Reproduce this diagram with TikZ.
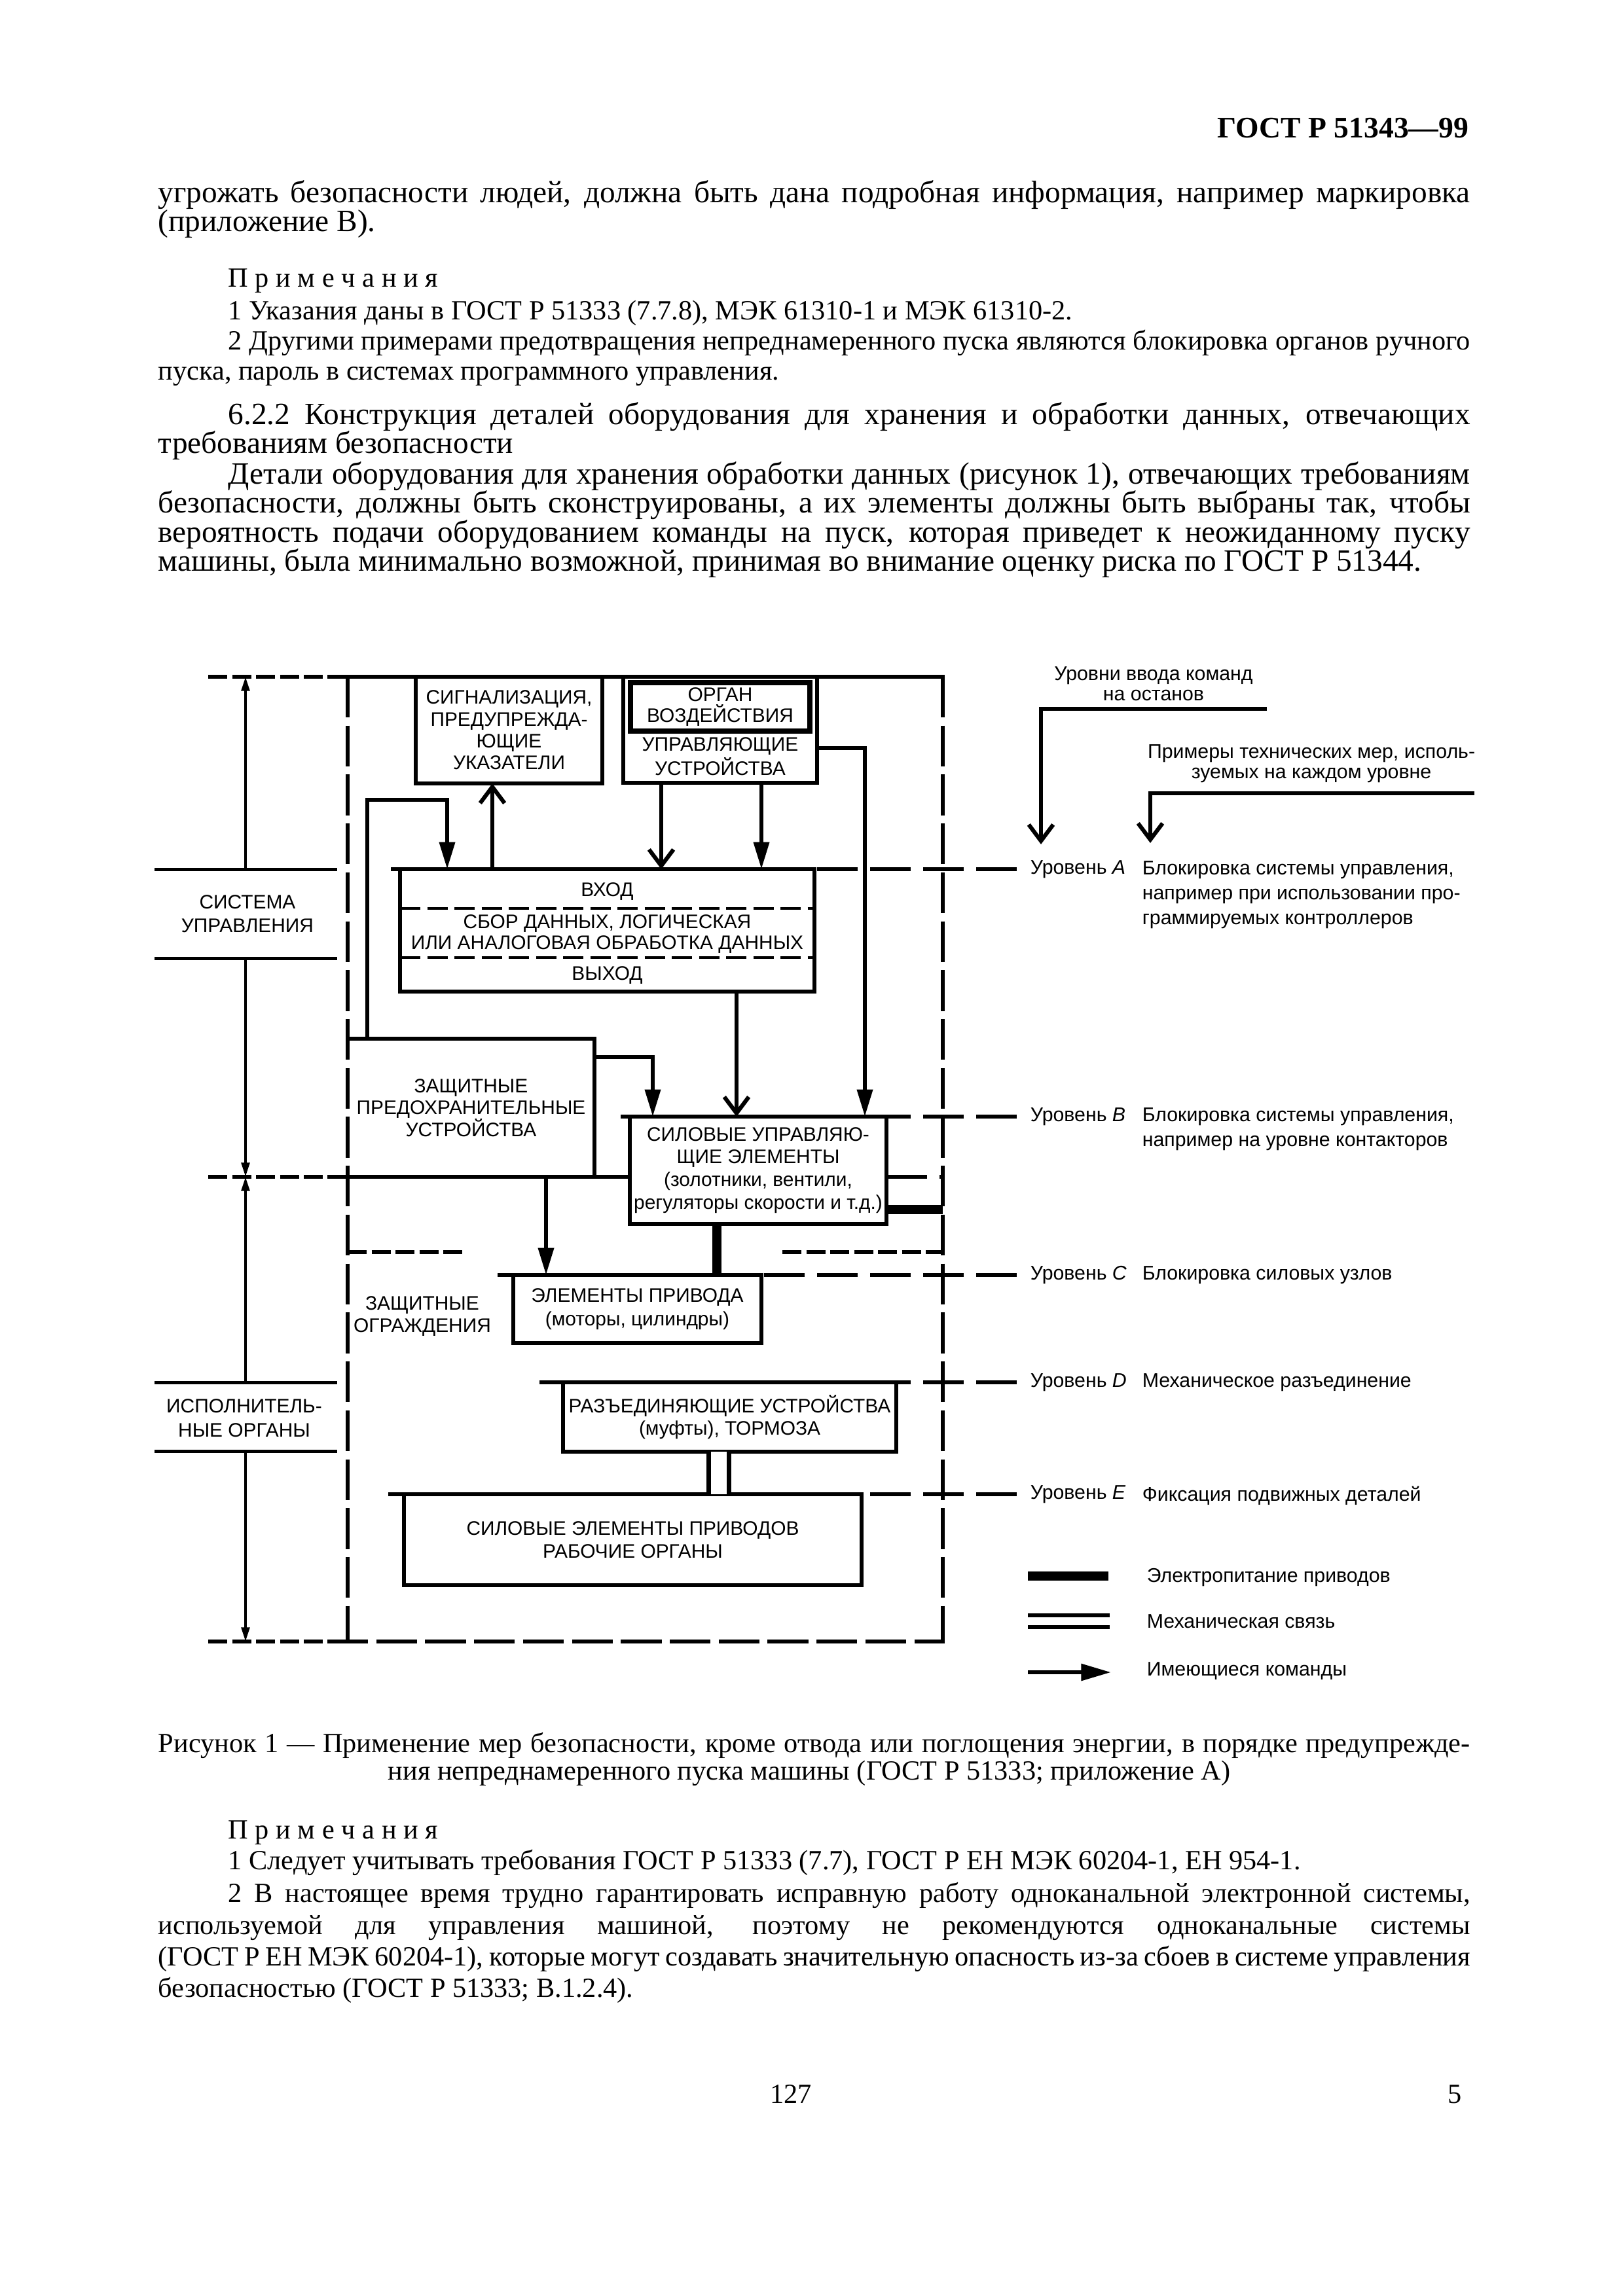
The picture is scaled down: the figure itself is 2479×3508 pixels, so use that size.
\documentclass[tikz,border=0pt]{standalone}
\usepackage{fontspec}
\setmainfont{Liberation Serif}
\setsansfont{Liberation Sans}
\usetikzlibrary{arrows.meta}
\newlength\pxu \setlength\pxu{0.084667mm}
\newcommand\bodyfont{\rmfamily\fontsize{11.4}{13}\selectfont}
\newcommand\notefont{\rmfamily\fontsize{10.2}{12}\selectfont}
\newcommand\boxfont{\sffamily\fontsize{7.2}{8}\selectfont}
\newcommand\sidefont{\sffamily\fontsize{7.3}{9.1}\selectfont}
\newcommand\jl[2]{\makebox[#1\pxu][s]{#2}}
\begin{document}
\begin{tikzpicture}[x=0.084667mm, y=-0.084667mm,
  txt/.style={anchor=base west, inner sep=0pt, font=\bodyfont},
  note/.style={anchor=base west, inner sep=0pt, font=\notefont},
  box/.style={draw, line width=1.6pt, inner sep=0pt, outer sep=0pt, font=\boxfont, align=center},
  boxtxt/.style={inner sep=0pt, outer sep=0pt, font=\boxfont, align=center},
  side/.style={inner sep=0pt, font=\sidefont, align=left},
  boxline/.style={line width=1.6pt},
  cmd/.style={line width=1.5pt, -{Triangle[length=10pt,width=5.6pt]}},
  cmdv/.style={line width=1.5pt, -{Straight Barb[length=6pt,width=9pt]}},
  power/.style={line width=3.5pt},
  mech/.style={double, double distance=6pt, line width=1.6pt},
  lvl/.style={line width=1.45pt, dash pattern=on 15pt off 4.5pt},
  frame/.style={line width=1.6pt, dash pattern=on 15pt off 3pt},
  short/.style={line width=1.6pt, dash pattern=on 7pt off 1.8pt},
  sepdash/.style={line width=1pt, dash pattern=on 7.5pt off 2.5pt},
  sep/.style={line width=1.2pt},
  dimarr/.style={line width=1pt, -{Triangle[length=5.2pt,width=3pt]}}]
\useasboundingbox (0,0) rectangle (2479,3508);

% page text
\node[anchor=base east, inner sep=0pt, font={\rmfamily\bfseries\fontsize{11}{13}\selectfont}] (head) at (2244,210) {ГОСТ Р 51343—99};
\node[txt] (t1) at (241,309) {\jl{2004}{угрожать безопасности людей, должна быть дана подробная информация, например маркировка}};
\node[txt] (t2) at (241,353) {(приложение В).};
\node[note] (n0) at (348,438) {П р и м е ч а н и я};
\node[note] (n1) at (348,488) {1 Указания даны в ГОСТ Р 51333 (7.7.8), МЭК 61310-1 и МЭК 61310-2.};
\node[note] (n2) at (348,534) {\jl{1897}{2 Другими примерами предотвращения непреднамеренного пуска являются блокировка органов ручного}};
\node[note] (n3) at (241,580) {пуска, пароль в системах программного управления.};
\node[txt] (p1) at (348,648) {\jl{1897}{6.2.2 Конструкция деталей оборудования для хранения и обработки данных, отвечающих}};
\node[txt] (p2) at (241,692) {требованиям безопасности};
\node[txt] (p3) at (348,739) {\jl{1897}{Детали оборудования для хранения обработки данных (рисунок 1), отвечающих требованиям}};
\node[txt] (p4) at (241,783) {\jl{2004}{безопасности, должны быть сконструированы, а их элементы должны быть выбраны так, чтобы}};
\node[txt] (p5) at (241,828) {\jl{2004}{вероятность подачи оборудованием команды на пуск, которая приведет к неожиданному пуску}};
\node[txt] (p6) at (241,872) {машины, была минимально возможной, принимая во внимание оценку риска по ГОСТ Р 51344.};

% frame
\coordinate (ftl) at (531,1034);
\coordinate (ftr) at (1440,1034);
\coordinate (fbl) at (531,2508);
\coordinate (fbr) at (1440,2508);
\draw[short] (318,1034) -- (500,1034);
\draw[boxline] (500,1034) -- ([xshift=0.8pt]ftr);
\draw[short] (318,2508) -- (500,2508);
\draw[frame] (500,2508) -- ([xshift=0.8pt]fbr);
\draw[frame] (ftl) -- (fbl);
\draw[frame] (ftr) -- (fbr);

% left column
\coordinate (dtop) at (375,1034);
\coordinate (dmid) at (375,1798);
\coordinate (dbot) at (375,2508);
\node[boxtxt, font=\sffamily\fontsize{7.2}{8.7}\selectfont] (ctrlsys) at (378,1396) {СИСТЕМА\\УПРАВЛЕНИЯ};
\node[boxtxt, font=\sffamily\fontsize{7.2}{8.9}\selectfont] (actsys) at (373,2167) {ИСПОЛНИТЕЛЬ-\\НЫЕ ОРГАНЫ};
\foreach \y in {1328,1464,2112,2217}
    \draw[sep] (236,\y) -- (515,\y);
\draw[dimarr] (dtop |- 0,1328) -- (dtop);
\draw[dimarr] (dtop |- 0,1464) -- (dmid);
\draw[dimarr] (dtop |- 0,2112) -- (dmid);
\draw[dimarr] (dtop |- 0,2217) -- (dbot);

% boxes
\node[box, minimum width=285*\pxu, minimum height=163*\pxu] (sig) at (777.5,1115.5) {СИГНАЛИЗАЦИЯ,\\ПРЕДУПРЕЖДА-\\ЮЩИЕ\\УКАЗАТЕЛИ};
\node[box, minimum width=296*\pxu, minimum height=162*\pxu] (ctrl) at (1100,1115) {};
\node[box, line width=1.9pt, minimum width=274*\pxu, minimum height=74*\pxu, font=\sffamily\fontsize{7.2}{6.2}\selectfont] (organ) at (1100,1080) {ОРГАН\\ВОЗДЕЙСТВИЯ};
\node[boxtxt, font=\sffamily\fontsize{7.2}{7.7}\selectfont] (ctrltxt) at (1100,1156) {УПРАВЛЯЮЩИЕ\\УСТРОЙСТВА};
\node[box, minimum width=633*\pxu, minimum height=187*\pxu] (data) at (927.5,1421.5) {};
\node[boxtxt] (datain) at (927.5,1362) {ВХОД};
\node[boxtxt, font=\sffamily\fontsize{7.2}{7.5}\selectfont] (dataproc) at (927.5,1427) {СБОР ДАННЫХ, ЛОГИЧЕСКАЯ\\ИЛИ АНАЛОГОВАЯ ОБРАБОТКА ДАННЫХ};
\node[boxtxt] (dataout) at (927.5,1490) {ВЫХОД};
\draw[sepdash] (data.west |- 0,1388) -- (data.east |- 0,1388);
\draw[sepdash] (data.west |- 0,1463) -- (data.east |- 0,1463);
\node[boxtxt, minimum width=377*\pxu, minimum height=211*\pxu] (prot) at (719.5,1692.5) {ЗАЩИТНЫЕ\\ПРЕДОХРАНИТЕЛЬНЫЕ\\УСТРОЙСТВА};
\draw[boxline] (prot.north west) -- (prot.north east) -- (prot.south east);
\node[box, minimum width=392*\pxu, minimum height=164*\pxu, font=\sffamily\fontsize{7.2}{8.4}\selectfont] (pwr) at (1158,1788) {СИЛОВЫЕ УПРАВЛЯЮ-\\ЩИЕ ЭЛЕМЕНТЫ\\(золотники, вентили,\\регуляторы скорости и т.д.)};
\node[box, minimum width=379*\pxu, minimum height=104*\pxu, font=\sffamily\fontsize{7.2}{8.7}\selectfont] (drv) at (973.5,2000) {ЭЛЕМЕНТЫ ПРИВОДА\\(моторы, цилиндры)};
\node[boxtxt] (guard) at (645,2011) {ЗАЩИТНЫЕ\\ОГРАЖДЕНИЯ};
\node[box, minimum width=509*\pxu, minimum height=106*\pxu] (disc) at (1114.5,2165) {РАЗЪЕДИНЯЮЩИЕ УСТРОЙСТВА\\(муфты), ТОРМОЗА};
\node[box, minimum width=699*\pxu, minimum height=139*\pxu, font=\sffamily\fontsize{7.2}{8.5}\selectfont] (work) at (966.5,2352.5) {СИЛОВЫЕ ЭЛЕМЕНТЫ ПРИВОДОВ\\РАБОЧИЕ ОРГАНЫ};

% boundary lines
\draw[short] (318,1798) -- (500,1798);
\draw[boxline] (500,1798) -- (prot.south east);
\draw[lvl] (prot.south east) -- (pwr.west |- 0,1798);
\draw[lvl] (pwr.east |- 0,1798) -- (ftr |- 0,1798);
\draw[short] (ftl |- 0,1913) -- (708,1913);
\draw[short] (1195,1913) -- (ftr |- 0,1913);

% levels
\foreach \y/\x/\bx/\lv in {1328/597/data/A, 1706/948/pwr/B, 1948/760/drv/C, 2112/824/disc/D, 2283/593/work/E}
{
    \draw[boxline] (\x,\y) -- (\bx.north west);
    \draw[lvl] (1553,\y) -- (\bx.north east);
    \node[side, anchor=west] (lvl\lv) at (1573,\y) {Уровень \textit{\lv}};
}
\node[side, anchor=west] (dA) at (1744,1367) {Блокировка системы управления,\\например при использовании про-\\граммируемых контроллеров};
\node[side, anchor=west] (dB) at (1744,1725) {Блокировка системы управления,\\например на уровне контакторов};
\node[side, anchor=west] (dC) at (1744,1948) {Блокировка силовых узлов};
\node[side, anchor=west] (dD) at (1744,2112) {Механическое разъединение};
\node[side, anchor=west] (dE) at (1744,2285) {Фиксация подвижных деталей};

% commands
\coordinate (feedturn) at (683,1222);
\draw[cmdv] (data.north -| 752,0) -- (sig.south -| 752,0);
\draw[cmd] (prot.north -| 561,0) |- (feedturn) -- (data.north -| feedturn);
\draw[cmdv] (ctrl.south -| 1010,0) -- (data.north -| 1010,0);
\draw[cmd] (ctrl.south -| 1163,0) -- (data.north -| 1163,0);
\draw[cmd] (ctrl.east |- 0,1143) -| (pwr.north -| 1321,0);
\draw[cmd] (prot.east |- 0,1615) -| (pwr.north -| 997,0);
\draw[cmdv] (data.south -| 1125,0) -- (pwr.north -| 1125,0);
\draw[cmd] (prot.south -| 834,0) -- (drv.north -| 834,0);
\draw[power] (pwr.south -| 1095,0) -- (drv.north -| 1095,0);
\draw[power] (pwr.east |- 0,1848) -- (ftr |- 0,1848);
\draw[mech] (disc.south -| 1098,0) -- (work.north -| 1098,0);

% heads on the right
\node[side, align=center, font=\sffamily\fontsize{7.3}{7.5}\selectfont] (stoplbl) at (1762,1045) {Уровни ввода команд\\на останов};
\node[side, align=center, font=\sffamily\fontsize{7.3}{7.5}\selectfont] (measlbl) at (2003,1167) {Примеры технических мер, исполь-\\зуемых на каждом уровне};
\coordinate (stopin) at (1935,1083);
\coordinate (stoptip) at (1590,1290);
\coordinate (measin) at (2252,1212);
\coordinate (meastip) at (1757,1288);
\draw[cmdv] (stopin) -| (stoptip);
\draw[cmdv] (measin) -| (meastip);

% legend
\coordinate (lg1) at (1570,2408);
\coordinate (lg2) at (1570,2477);
\coordinate (lg3) at (1570,2555);
\draw[power] (lg1) -- ++(123,0);
\draw[double, double distance=2.9pt, line width=1.4pt] (lg2) -- ++(125,0);
\draw[line width=1.5pt, -{Triangle[length=11pt,width=6pt]}] (lg3) -- ++(127,0);
\node[side, anchor=west] (lgt1) at (1751,2410) {Электропитание приводов};
\node[side, anchor=west] (lgt2) at (1751,2477) {Механическая связь};
\node[side, anchor=west] (lgt3) at (1751,2553) {Имеющиеся команды};

% caption and notes
\node[note] (c1) at (241,2677) {\jl{2004}{Рисунок 1 — Применение мер безопасности, кроме отвода или поглощения энергии, в порядке предупрежде-}};
\node[anchor=base, inner sep=0pt, font=\notefont] (c2) at (1236,2719) {ния непреднамеренного пуска машины (ГОСТ Р 51333; приложение А)};
\node[note] (m0) at (348,2809) {П р и м е ч а н и я};
\node[note] (m1) at (348,2856) {1 Следует учитывать требования ГОСТ Р 51333 (7.7), ГОСТ Р ЕН МЭК 60204-1, ЕН 954-1.};
\node[note] (m2) at (348,2906) {\jl{1897}{2 В настоящее время трудно гарантировать исправную работу одноканальной электронной системы,}};
\node[note] (m3) at (241,2955) {\jl{2004}{используемой для управления машиной, поэтому не рекомендуются одноканальные системы}};
\node[note] (m4) at (241,3003) {\jl{2004}{(ГОСТ Р ЕН МЭК 60204-1), которые могут создавать значительную опасность из-за сбоев в системе управления}};
\node[note] (m5) at (241,3051) {безопасностью (ГОСТ Р 51333; В.1.2.4).};
\node[anchor=base, inner sep=0pt, font=\notefont] (pg1) at (1208,3213) {127};
\node[anchor=base east, inner sep=0pt, font=\notefont] (pg2) at (2233,3213) {5};
\end{tikzpicture}
\end{document}
